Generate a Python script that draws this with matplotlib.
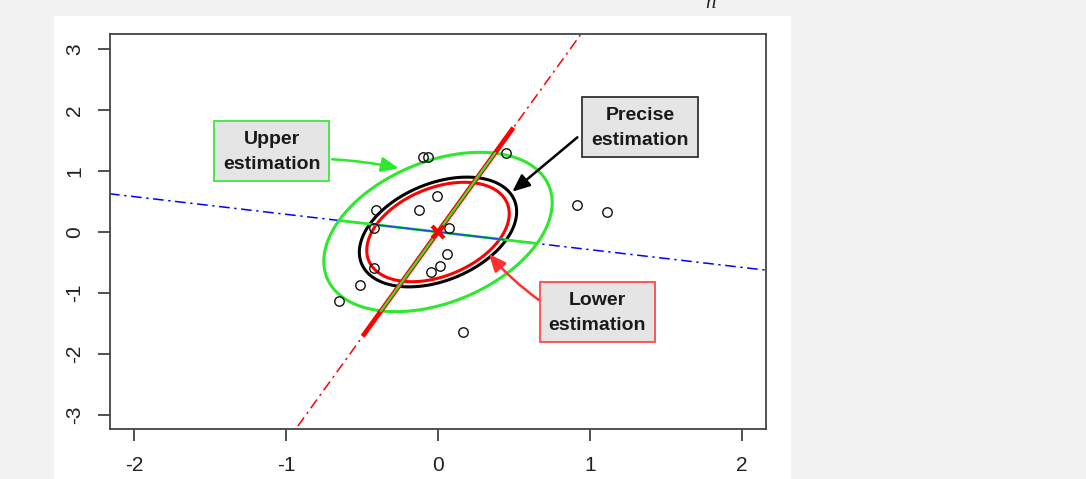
import numpy as np
import matplotlib
matplotlib.use("Agg")
import matplotlib.pyplot as plt
from matplotlib.patches import Rectangle

plt.rcParams['axes.unicode_minus'] = False
plt.rcParams['font.family'] = ['Liberation Sans', 'DejaVu Sans']

# ---- data ----
pts_x = [-0.096, -0.063, 0.445, -0.005, -0.127, -0.405, -0.418, 0.071, 0.061,
         0.016, -0.049, -0.418, -0.511, -0.649, 0.166, 0.913, 1.115]
pts_y = [1.23, 1.23, 1.29, 0.595, 0.36, 0.36, 0.07, 0.07, -0.366,
         -0.552, -0.661, -0.585, -0.869, -1.131, -1.634, 0.443, 0.333]
center = [0.0, 0.0]
major_slope = 3.45           # direction of first principal axis
ell_names = ["Upper", "Precise", "Lower"]
ell_major = [1.346, 0.927, 0.840]   # semi-axis along major direction
ell_minor = [0.678, 0.467, 0.423]   # semi-axis along minor direction
ell_colors = ["#2ee82e", "black", "red"]
red_seg_half = 1.78
blue_seg_half = 0.45
xticks = [-2, -1, 0, 1, 2]
yticks = [-3, -2, -1, 0, 1, 2, 3]

fig = plt.figure(figsize=(10.86, 4.79), dpi=100, facecolor="#f2f2f2")
bg = fig.add_axes([54/1086, 0, (791-54)/1086, 463/479], zorder=-10)
bg.set_facecolor("white")
bg.set_xticks([]); bg.set_yticks([])
for sp in bg.spines.values():
    sp.set_visible(False)

fig.text(711/1086, 1 - 7.5/479, "n", family="Liberation Serif", style="italic",
         fontsize=15, ha="center", va="baseline", color="#222222")

ax = fig.add_axes([110/1086, 50/479, 656/1086, 395/479])
ax.set_xlim(-2.158, 2.158)
ax.set_ylim(-3.23, 3.246)
ax.set_facecolor("none")

v1 = np.array([1.0, major_slope]); v1 /= np.linalg.norm(v1)
v2 = np.array([v1[1], -v1[0]])
c = np.array(center)

# full principal axes (dash-dot)
tt = np.array([-10, 10])
ax.plot(c[0] + tt*v1[0], c[1] + tt*v1[1], color="red", lw=1.1,
        linestyle=(0, (7, 3, 1.5, 3)), zorder=1)
ax.plot(c[0] + tt*v2[0], c[1] + tt*v2[1], color="blue", lw=1.1,
        linestyle=(0, (7, 3, 1.5, 3)), zorder=1)

# ellipses
t = np.linspace(0, 2*np.pi, 400)
for a, b, col in zip(ell_major, ell_minor, ell_colors):
    ex = c[0] + a*np.cos(t)*v1[0] + b*np.sin(t)*v2[0]
    ey = c[1] + a*np.cos(t)*v1[1] + b*np.sin(t)*v2[1]
    ax.plot(ex, ey, color=col, lw=2.2, zorder=2)

# axis segments
s = np.array([-1, 1])
ax.plot(c[0] + s*red_seg_half*v1[0], c[1] + s*red_seg_half*v1[1],
        color="red", lw=3.4, zorder=3, solid_capstyle="butt")
ax.plot(c[0] + s*ell_major[0]*v1[0], c[1] + s*ell_major[0]*v1[1],
        color="#2ee82e", lw=1.6, zorder=4)
ax.plot(c[0] + s*ell_minor[0]*v2[0], c[1] + s*ell_minor[0]*v2[1],
        color="#2ee82e", lw=2.0, zorder=4)
ax.plot(c[0] + s*blue_seg_half*v2[0], c[1] + s*blue_seg_half*v2[1],
        color="#1a4fd0", lw=1.2, zorder=5)

# points and center
ax.plot(pts_x, pts_y, linestyle="none", marker="o", ms=6.8, mfc="none",
        mec="#111111", mew=1.0, zorder=6)
ax.plot([c[0]], [c[1]], marker="x", ms=9, mew=3, color="red", zorder=7)

# annotation boxes
boxes = {
    "Upper": dict(x0=-1.473, y0=0.836, color="#3ce83c", text="Upper\nestimation",
                  xy=(-0.258, 1.044), xyt=(-0.697, 1.192), rad=-0.04),
    "Precise": dict(x0=0.950, y0=1.234, color="#333333", text="Precise\nestimation",
                    xy=(0.489, 0.661), xyt=(0.917, 1.552), rad=0.0),
    "Lower": dict(x0=0.669, y0=-1.798, color="#ff4a4a", text="Lower\nestimation",
                  xy=(0.335, -0.361), xyt=(0.664, -1.115), rad=-0.06),
}
bw, bh = 0.758, 0.984
arrow_cols = {"Upper": "#2ee82e", "Precise": "black", "Lower": "#ff3030"}
for name in ell_names:
    b = boxes[name]
    ax.add_patch(Rectangle((b["x0"], b["y0"]), bw, bh, facecolor="#e5e5e5",
                           edgecolor=b["color"], lw=1.3, zorder=8))
    ax.text(b["x0"] + bw/2, b["y0"] + bh/2 - 0.02, b["text"], ha="center",
            va="center", fontsize=14, fontweight="bold", color="#1a1a1a",
            linespacing=1.65, zorder=9)
    ax.annotate("", xy=b["xy"], xytext=b["xyt"],
                arrowprops=dict(arrowstyle="-|>,head_length=0.7,head_width=0.3",
                                mutation_scale=15, color=arrow_cols[name], lw=1.8,
                                shrinkA=0, shrinkB=0,
                                connectionstyle=f"arc3,rad={b['rad']}"),
                zorder=8)

# axes styling
for sp in ax.spines.values():
    sp.set_color("#444444")
    sp.set_linewidth(1.3)
ax.set_xticks(xticks)
ax.set_yticks(yticks)
ax.set_xticklabels([str(v) for v in xticks])
ax.set_yticklabels([str(v) for v in yticks], rotation=90, va="center")
ax.tick_params(axis="both", direction="out", length=8.6, width=1.2,
               color="#333333", labelsize=15, labelcolor="#222222")
ax.tick_params(axis="x", pad=11)
ax.tick_params(axis="y", pad=10)

fig.savefig("out.png", dpi=100, facecolor=fig.get_facecolor())
